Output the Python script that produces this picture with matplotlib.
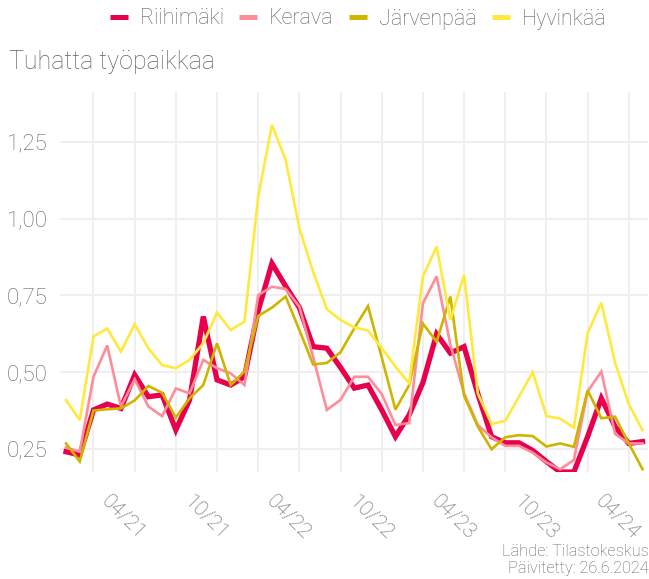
import matplotlib
matplotlib.use("Agg")
import matplotlib.pyplot as plt
from matplotlib.lines import Line2D
from matplotlib.transforms import ScaledTranslation

# kuukaudet 01/2021 - 07/2024
months = [f"{m:02d}/{y % 100:02d}" for y in range(2021, 2025) for m in range(1, 13)][:43]

riihimaki = [0.241, 0.230, 0.377, 0.396, 0.382, 0.491, 0.420, 0.426, 0.312, 0.410,
             0.681, 0.475, 0.458, 0.485, 0.700, 0.854, 0.780, 0.710, 0.583, 0.578,
             0.515, 0.448, 0.458, 0.377, 0.290, 0.361, 0.466, 0.624, 0.562, 0.583,
             0.430, 0.290, 0.270, 0.270, 0.245, 0.209, 0.175, 0.175, 0.290, 0.415,
             0.323, 0.268, 0.274]
kerava = [0.255, 0.241, 0.485, 0.587, 0.388, 0.477, 0.388, 0.357, 0.447, 0.431,
          0.540, 0.513, 0.496, 0.458, 0.751, 0.778, 0.771, 0.713, 0.550, 0.377,
          0.410, 0.485, 0.485, 0.429, 0.328, 0.334, 0.724, 0.812, 0.590, 0.431,
          0.328, 0.288, 0.260, 0.260, 0.238, 0.206, 0.184, 0.214, 0.437, 0.502,
          0.299, 0.268, 0.268]
jarvenpaa = [0.268, 0.209, 0.375, 0.379, 0.382, 0.408, 0.455, 0.433, 0.352, 0.415,
             0.458, 0.594, 0.458, 0.502, 0.683, 0.710, 0.746, 0.637, 0.525, 0.530,
             0.565, 0.643, 0.715, 0.548, 0.378, 0.458, 0.658, 0.599, 0.746, 0.423,
             0.323, 0.249, 0.288, 0.295, 0.292, 0.258, 0.268, 0.257, 0.441, 0.350,
             0.355, 0.268, 0.184]
hyvinkaa = [0.409, 0.344, 0.616, 0.642, 0.567, 0.656, 0.578, 0.523, 0.513, 0.540,
            0.594, 0.694, 0.637, 0.664, 1.071, 1.305, 1.191, 0.968, 0.827, 0.705,
            0.670, 0.646, 0.635, 0.578, 0.518, 0.464, 0.811, 0.909, 0.670, 0.816,
            0.431, 0.331, 0.342, 0.420, 0.500, 0.357, 0.349, 0.319, 0.627, 0.726,
            0.531, 0.396, 0.311]

series = [
    ("Riihimäki", riihimaki, "#E8004C", 3.8),
    ("Kerava", kerava, "#FF8C99", 1.9),
    ("Järvenpää", jarvenpaa, "#CDB500", 1.9),
    ("Hyvinkää", hyvinkaa, "#FFE93C", 1.9),
]

grey = "#626262"
plt.rcParams["font.family"] = ["Roboto", "DejaVu Sans"]
plt.rcParams["font.weight"] = "light"

fig = plt.figure(figsize=(6.49, 5.79), dpi=100)
ax = fig.add_axes([60 / 649, 1 - 472 / 579, 588 / 649, 380 / 579])

x = list(range(len(months)))
for z, (name, vals, col, lw) in enumerate(series):
    ax.plot(x, vals, color=col, lw=lw, zorder=z + 2, solid_joinstyle="miter")

ax.set_xlim(-0.44, 42.4)
ax.set_ylim(0.175, 1.412)

# gridlines every 3 months, labels every 6 months
ax.set_xticks(x[2::3], minor=True)
ax.set_xticks(x[3::6])
ax.set_xticklabels([months[i] for i in x[3::6]], rotation=-45, ha="left", va="top",
                   rotation_mode="anchor")
ax.set_yticks([0.25, 0.5, 0.75, 1.0, 1.25])
ax.set_yticklabels(["0,25", "0,50", "0,75", "1,00", "1,25"])
ax.grid(True, which="minor", axis="x", color="#EFEFEF", lw=1.4)
ax.grid(True, which="major", axis="y", color="#EFEFEF", lw=1.4)
ax.set_axisbelow(True)
ax.tick_params(which="both", length=0, colors=grey)
ax.tick_params(axis="x", pad=14, labelsize=15)
ax.tick_params(axis="y", pad=9, labelsize=16)
for s in ax.spines.values():
    s.set_visible(False)
shift = ScaledTranslation(4 / 100, 0, fig.dpi_scale_trans)
for lab in ax.get_xticklabels():
    lab.set_transform(lab.get_transform() + shift)

handles = [Line2D([], [], color=c, lw=3.6, solid_capstyle="butt") for _, _, c, _ in series]
fig.legend(handles, [n for n, _, _, _ in series], loc="center", ncol=4,
           bbox_to_anchor=(358 / 649, 1 - 19 / 579), frameon=False, fontsize=15.5,
           handlelength=0.85, handletextpad=0.55, columnspacing=0.7, labelcolor=grey)

fig.text(9 / 649, 1 - 62 / 579, "Tuhatta työpaikkaa", color=grey, fontsize=18, va="center")
fig.text(649 / 649, 1 - 551 / 579, "Lähde: Tilastokeskus", color=grey, fontsize=11.8,
         ha="right", va="center")
fig.text(649 / 649, 1 - 569 / 579, "Päivitetty: 26.6.2024", color=grey, fontsize=11.8,
         ha="right", va="center")

fig.savefig("out.png", dpi=100)
